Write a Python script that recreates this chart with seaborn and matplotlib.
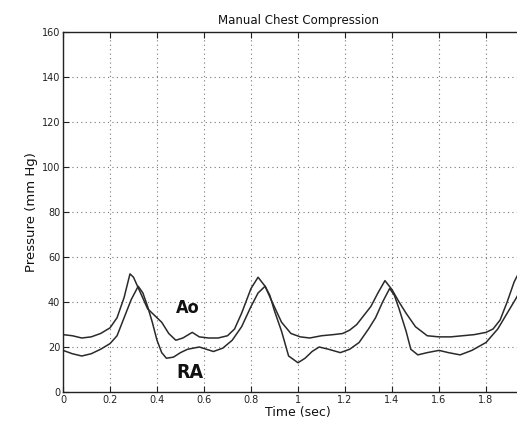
import matplotlib
matplotlib.use("Agg")
import matplotlib.pyplot as plt
import seaborn as sns
import pandas as pd

# ---- data ----
ao_t = [0.00, 0.04, 0.08, 0.12, 0.16, 0.20, 0.23, 0.26, 0.285, 0.30, 0.33, 0.36, 0.39, 0.42,
        0.45, 0.48, 0.51, 0.55, 0.58, 0.62, 0.66, 0.70, 0.73, 0.76, 0.80, 0.83, 0.86, 0.89,
        0.93, 0.97, 1.01, 1.05, 1.10, 1.15, 1.19, 1.22, 1.25, 1.28, 1.31, 1.34, 1.37, 1.40,
        1.43, 1.46, 1.50, 1.55, 1.60, 1.65, 1.70, 1.75, 1.80, 1.83, 1.86, 1.89, 1.92, 1.95]
ao_p = [25.5, 25, 24, 24.5, 26, 28.5, 33, 42, 52.5, 51, 44, 37, 34, 31,
        26, 23, 24, 26.5, 24.5, 24, 24, 25, 28, 35, 46, 51, 47, 40,
        31, 26, 24.5, 24, 25, 25.5, 26, 27.5, 30, 34, 38, 44, 49.5, 45.5,
        40, 35, 29, 25, 24.5, 24.5, 25, 25.5, 26.5, 28, 32, 40, 49, 55]

ra_t = [0.00, 0.04, 0.08, 0.12, 0.16, 0.20, 0.23, 0.26, 0.29, 0.32, 0.34, 0.36, 0.38, 0.40,
        0.42, 0.44, 0.47, 0.50, 0.53, 0.58, 0.61, 0.64, 0.68, 0.72, 0.76, 0.80, 0.83, 0.86,
        0.88, 0.90, 0.93, 0.96, 1.00, 1.03, 1.06, 1.09, 1.13, 1.18, 1.22, 1.26, 1.30, 1.33,
        1.36, 1.39, 1.41, 1.43, 1.46, 1.48, 1.51, 1.55, 1.60, 1.64, 1.69, 1.74, 1.80, 1.85,
        1.89, 1.93, 1.95]
ra_p = [18.5, 17, 16, 17, 19, 21.5, 25, 33, 41, 47, 44, 38, 31, 23,
        17.5, 15, 15.5, 17.5, 19, 20, 19, 18, 19.5, 23, 29, 38, 44, 47,
        43, 36, 27, 16, 13, 15, 18, 20, 19, 17.5, 19, 22, 28, 33,
        40, 46, 43, 37, 27, 19, 16.5, 17.5, 18.5, 17.5, 16.5, 18.5, 22, 28,
        35, 42, 46]

x_ticks = [0, 0.2, 0.4, 0.6, 0.8, 1.0, 1.2, 1.4, 1.6, 1.8]
x_ticklabels = ["0", "0.2", "0.4", "0.6", "0.8", "1", "1.2", "1.4", "1.6", "1.8"]
y_ticks = [0, 20, 40, 60, 80, 100, 120, 140, 160]
title = "Manual Chest Compression"
xlabel = "Time (sec)"
ylabel = "Pressure (mm Hg)"

df = pd.concat([
    pd.DataFrame({"t": ao_t, "p": ao_p, "series": "Ao"}),
    pd.DataFrame({"t": ra_t, "p": ra_p, "series": "RA"}),
])

sns.set_style("white")
plt.rcParams["font.family"] = ["DejaVu Sans"]

W, H = 517, 421
fig = plt.figure(figsize=(W / 100, H / 100), dpi=100)
left, right, top, bottom = 63, 533, 32, 392
ax = fig.add_axes([left / W, (H - bottom) / H, (right - left) / W, (bottom - top) / H])

sns.lineplot(data=df, x="t", y="p", units="series", estimator=None, sort=False,
             color="#2a2a2a", linewidth=1.1, ax=ax, legend=False)

ax.set_xlim(0, 2)
ax.set_ylim(0, 160)
ax.set_xticks(x_ticks)
ax.set_xticklabels(x_ticklabels)
ax.set_yticks(y_ticks)
ax.grid(True, color="#777777", linestyle=(0, (1, 3)), linewidth=0.8)
ax.set_axisbelow(True)
for s in ax.spines.values():
    s.set_color("#222222")
    s.set_linewidth(1.0)
ax.tick_params(direction="in", length=4, width=0.8, color="#222222",
               labelsize=7, pad=2, top=True, right=True, bottom=True, left=True,
               labelcolor="#222222")

ax.set_title(title, fontsize=8.5, pad=6, color="#111111")
ax.set_xlabel(xlabel, fontsize=9, labelpad=1, color="#111111")
ax.set_ylabel(ylabel, fontsize=9.5, labelpad=3, color="#111111")

ax.text(0.53, 37.5, "Ao", fontsize=13, fontweight="bold", fontstretch="condensed",
        ha="center", va="center", color="#111111")
ax.text(0.54, 8.5, "RA", fontsize=14, fontweight="bold", fontstretch="condensed",
        ha="center", va="center", color="#111111")

fig.savefig("out.png", dpi=100)
